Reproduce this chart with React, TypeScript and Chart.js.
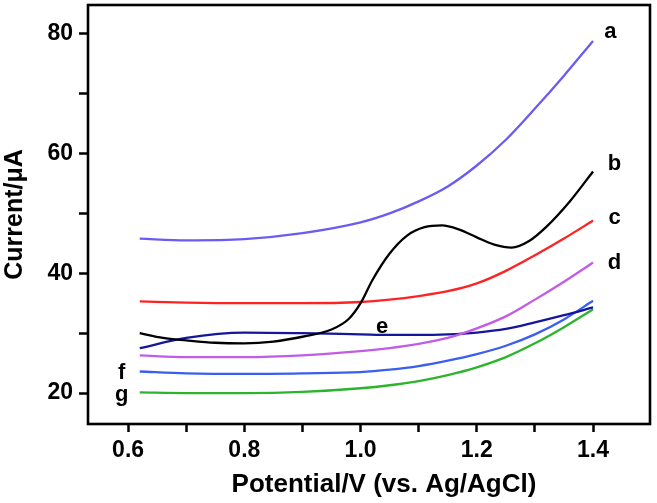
import React, { useEffect, useRef } from "react";
import { Chart, registerables } from "chart.js";

Chart.register(...registerables);

// ---- data ----
const xCommon = [0.62, 0.7, 0.8, 0.9, 1.0, 1.05, 1.1, 1.15, 1.2, 1.25, 1.3, 1.35, 1.4];
const curveA = [45.8, 45.5, 45.7, 46.7, 48.5, 50.0, 52.0, 54.5, 58.0, 62.3, 67.5, 73.0, 78.8];
const curveC = [35.3, 35.1, 35.0, 35.0, 35.2, 35.6, 36.2, 37.0, 38.3, 40.4, 43.0, 45.8, 48.8];
const curveD = [26.3, 26.0, 26.0, 26.3, 27.0, 27.5, 28.2, 29.2, 30.8, 32.8, 35.6, 38.6, 41.8];
const curveE = [27.5, 29.2, 30.1, 30.0, 29.8, 29.7, 29.7, 29.8, 30.1, 30.7, 31.8, 33.0, 34.3];
const curveF = [23.6, 23.3, 23.2, 23.3, 23.5, 23.9, 24.5, 25.4, 26.5, 27.9, 29.8, 32.3, 35.4];
const curveG = [20.1, 20.0, 20.0, 20.2, 20.8, 21.3, 22.0, 23.0, 24.3, 26.0, 28.3, 31.0, 34.0];

const xB = [0.62, 0.66, 0.7, 0.75, 0.8, 0.85, 0.9, 0.95, 0.98, 1.0, 1.02, 1.05, 1.08, 1.11, 1.14, 1.17, 1.2, 1.23, 1.26, 1.29, 1.32, 1.36, 1.4];
const curveB = [30.0, 29.2, 28.8, 28.4, 28.3, 28.6, 29.4, 30.6, 32.4, 35.0, 38.8, 43.3, 46.3, 47.7, 48.0, 47.3, 46.0, 44.8, 44.3, 45.4, 47.8, 52.0, 57.0];

const seriesNames = ["a", "b", "c", "d", "e", "f", "g"];
const seriesColors = ["#6a5cf2", "#000000", "#ff2222", "#c25ce6", "#16169a", "#3a5ef0", "#2cb52c"];

const xTickValues = [0.6, 0.7, 0.8, 0.9, 1.0, 1.1, 1.2, 1.3, 1.4];
const xTickLabels = ["0.6", "", "0.8", "", "1.0", "", "1.2", "", "1.4"];
const yTickValues = [20, 30, 40, 50, 60, 70, 80];
const yTickLabels = ["20", "", "40", "", "60", "", "80"];

// label anchor points (data coordinates)
const labelX = [1.43, 1.437, 1.437, 1.437, 1.037, 0.589, 0.589];
const labelY = [80.3, 58.3, 49.3, 41.8, 31.0, 23.3, 19.6];

const xTitle = "Potential/V (vs. Ag/AgCl)";
const yTitle = "Current/\u03bcA";

const FONT = "'Liberation Sans', Arial, sans-serif";

function pts(xs: number[], ys: number[]) {
  return xs.map((x, i) => ({ x, y: ys[i] }));
}

export default function App() {
  const ref = useRef<HTMLCanvasElement | null>(null);

  useEffect(() => {
    const canvas = ref.current;
    if (!canvas) return;
    const ys = [curveA, curveB, curveC, curveD, curveE, curveF, curveG];
    const datasets = seriesNames.map((name, i) => ({
      label: name,
      data: i === 1 ? pts(xB, curveB) : pts(xCommon, ys[i]),
      borderColor: seriesColors[i],
      backgroundColor: seriesColors[i],
      borderWidth: 2.3,
      pointRadius: 0,
      showLine: true,
      cubicInterpolationMode: "monotone" as const,
      fill: false,
    }));

    const framePlugin = {
      id: "frameAndLabels",
      afterDatasetsDraw(chart: any) {
        const { ctx, chartArea, scales } = chart;
        ctx.save();
        ctx.strokeStyle = "#000";
        ctx.lineWidth = 2.6;
        ctx.strokeRect(chartArea.left, chartArea.top, chartArea.right - chartArea.left, chartArea.bottom - chartArea.top);
        ctx.fillStyle = "#000";
        ctx.font = `bold 22px ${FONT}`;
        ctx.textAlign = "center";
        ctx.textBaseline = "middle";
        seriesNames.forEach((n, i) => {
          ctx.fillText(n, scales.x.getPixelForValue(labelX[i]), scales.y.getPixelForValue(labelY[i]));
        });
        // x-axis title (slightly right of centre, as in the reference)
        ctx.font = `bold 26px ${FONT}`;
        ctx.textBaseline = "alphabetic";
        ctx.fillText(xTitle, (chartArea.left + chartArea.right) / 2 + 15, chartArea.bottom + 68);
        ctx.restore();
      },
    };

    const chart = new Chart(canvas, {
      type: "scatter",
      data: { datasets },
      options: {
        animation: false,
        responsive: false,
        maintainAspectRatio: false,
        layout: { padding: { top: 5, right: 7, left: 0, bottom: 0 } },
        plugins: { legend: { display: false }, tooltip: { enabled: false } },
        scales: {
          x: {
            type: "linear",
            min: 0.531,
            max: 1.498,
            afterBuildTicks: (s: any) => {
              s.ticks = xTickValues.map((v) => ({ value: v }));
            },
            afterFit: (s: any) => {
              s.height = 79;
              s.paddingLeft = 0;
              s.paddingRight = 0;
            },
            ticks: {
              autoSkip: false,
              maxRotation: 0,
              padding: 5,
              color: "#000",
              font: { family: FONT, size: 23, weight: "bold" },
              callback: (_v: any, i: number) => xTickLabels[i],
            },
            grid: {
              drawOnChartArea: false,
              drawTicks: true,
              tickLength: 8,
              tickWidth: 2.5,
              tickColor: "#000",
            },
            border: { display: false },
            title: { display: false },
          },
          y: {
            type: "linear",
            min: 14.83,
            max: 84.8,
            afterBuildTicks: (s: any) => {
              s.ticks = yTickValues.map((v) => ({ value: v }));
            },
            afterFit: (s: any) => {
              s.width = 88;
              s.paddingTop = 0;
              s.paddingBottom = 0;
            },
            ticks: {
              autoSkip: false,
              padding: 6,
              color: "#000",
              font: { family: FONT, size: 23, weight: "bold" },
              callback: (_v: any, i: number) => yTickLabels[i],
            },
            grid: {
              drawOnChartArea: false,
              drawTicks: true,
              tickLength: 9,
              tickWidth: 2.5,
              tickColor: "#000",
            },
            border: { display: false },
            title: {
              display: true,
              text: yTitle,
              color: "#000",
              font: { family: FONT, size: 25, weight: "bold" },
              padding: { top: 0, bottom: 0 },
            },
          },
        },
      },
      plugins: [framePlugin],
    } as any);

    return () => chart.destroy();
  }, []);

  return (
    <div style={{ position: "fixed", left: 0, top: 0, width: 657, height: 503, background: "#fff" }}>
      <canvas ref={ref} width={657} height={503} style={{ width: 657, height: 503, display: "block" }} />
    </div>
  );
}
